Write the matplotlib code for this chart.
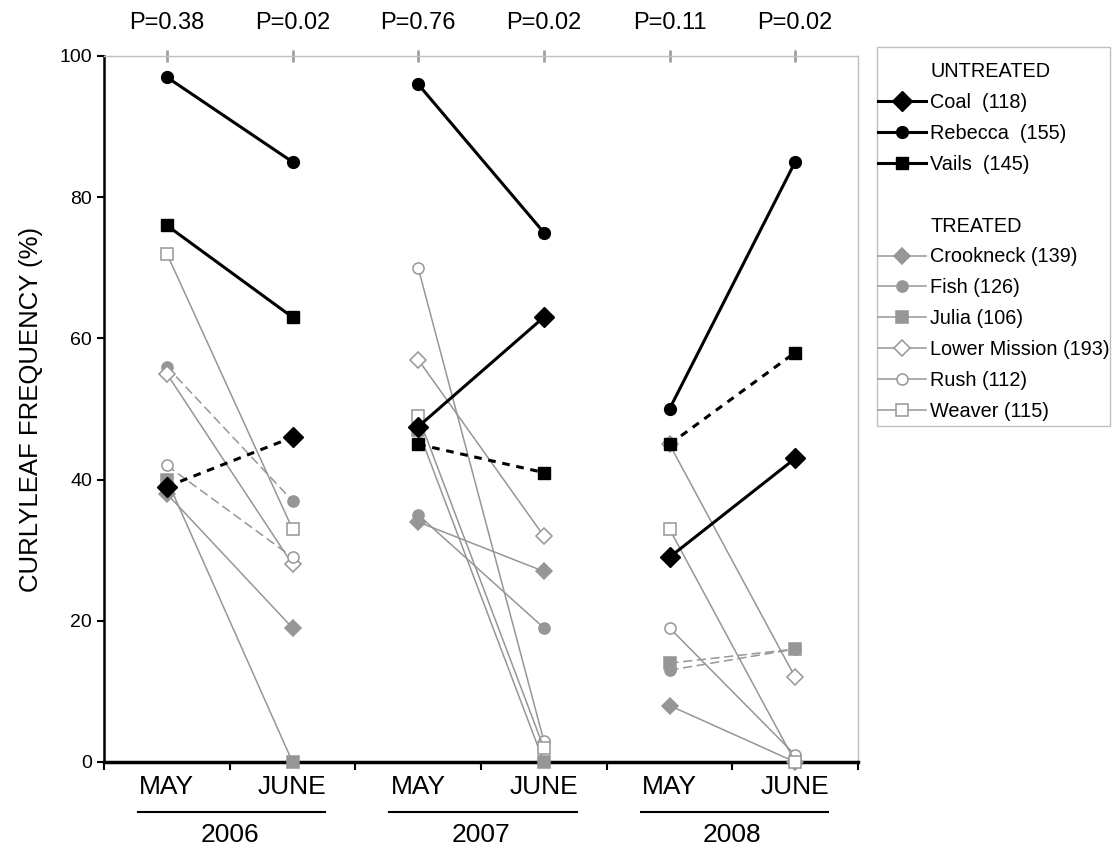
import matplotlib

matplotlib.use("Agg")
import matplotlib.pyplot as plt
from matplotlib.lines import Line2D
from matplotlib.patches import Rectangle
from matplotlib.transforms import blended_transform_factory

plt.rcParams["font.family"] = ["Liberation Sans", "DejaVu Sans"]

# sampling dates: May/June of each year
months = ["MAY", "JUNE", "MAY", "JUNE", "MAY", "JUNE"]
years = ["2006", "2007", "2008"]
p_values = ["P=0.38", "P=0.02", "P=0.76", "P=0.02", "P=0.11", "P=0.02"]

# curlyleaf frequency (%) per lake, order: May06, Jun06, May07, Jun07, May08, Jun08
coal = [39, 46, 47.5, 63, 29, 43]
rebecca = [97, 85, 96, 75, 50, 85]
vails = [76, 63, 45, 41, 45, 58]
crookneck = [38, 19, 34, 27, 8, 0]
fish = [56, 37, 35, 19, 13, 16]
julia = [40, 0, 47, 0, 14, 16]
lower_mission = [55, 28, 57, 32, 45, 12]
rush = [42, 29, 70, 3, 19, 1]
weaver = [72, 33, 49, 2, 33, 0]

# which yearly segments are drawn dashed
coal_dash = [True, False, False]
rebecca_dash = [False, False, False]
vails_dash = [False, True, True]
crookneck_dash = [False, False, False]
fish_dash = [True, False, True]
julia_dash = [False, False, True]
lower_mission_dash = [False, False, False]
rush_dash = [True, False, False]
weaver_dash = [False, False, False]

GRAY = "#969696"
W, H = 1112, 852

untreated = [
    ("Coal  (118)", coal, coal_dash, "D", "black"),
    ("Rebecca  (155)", rebecca, rebecca_dash, "o", "black"),
    ("Vails  (145)", vails, vails_dash, "s", "black"),
]
treated = [
    ("Crookneck (139)", crookneck, crookneck_dash, "D", GRAY),
    ("Fish (126)", fish, fish_dash, "o", GRAY),
    ("Julia (106)", julia, julia_dash, "s", GRAY),
    ("Lower Mission (193)", lower_mission, lower_mission_dash, "D", "white"),
    ("Rush (112)", rush, rush_dash, "o", "white"),
    ("Weaver (115)", weaver, weaver_dash, "s", "white"),
]
BLACK_MS = {"D": 10.5, "o": 8.5, "s": 9}


def main():
    fig = plt.figure(figsize=(W / 100, H / 100), dpi=100)
    ax = fig.add_axes([104 / W, 1 - 762 / H, (858 - 104) / W, (762 - 56) / H])

    # treated lakes: thin gray lines
    for i, (name, vals, dash, mk, face) in enumerate(treated):
        ms = 8 if mk != "D" else 8.5
        for k in range(3):
            xs = [2 * k, 2 * k + 1]
            ax.plot(xs, vals[2 * k:2 * k + 2], color=GRAY, lw=1.1,
                    ls=(0, (6, 3)) if dash[k] else "-",
                    marker=mk, ms=ms, mfc=face, mec=GRAY, mew=1.1,
                    zorder=3 + i * 0.1, clip_on=False)

    # untreated lakes: thick black lines
    for i, (name, vals, dash, mk, face) in enumerate(untreated):
        for k in range(3):
            xs = [2 * k, 2 * k + 1]
            ax.plot(xs, vals[2 * k:2 * k + 2], color="black", lw=2.2,
                    ls=(0, (2.5, 2.2)) if dash[k] else "-",
                    marker=mk, ms=BLACK_MS[mk], mfc=face, mec="black",
                    zorder=5 + i * 0.1, clip_on=False)

    ax.set_xlim(-0.5, 5.5)
    ax.set_ylim(0, 100)
    ax.set_yticks(range(0, 101, 20))
    ax.tick_params(axis="y", labelsize=14, length=5, width=1.5, direction="out")

    # category boundaries as major ticks, month labels on minor ticks
    ax.set_xticks([i - 0.5 for i in range(7)])
    ax.set_xticklabels([])
    ax.tick_params(axis="x", which="major", length=6, width=1.5, direction="out")
    ax.set_xticks(range(6), minor=True)
    ax.set_xticklabels(months, minor=True, fontsize=19)
    ax.tick_params(axis="x", which="minor", length=0, pad=9)

    for side in ["left", "bottom"]:
        ax.spines[side].set_color("black")
    ax.spines["left"].set_linewidth(1.8)
    ax.spines["bottom"].set_linewidth(2.5)
    for side in ["top", "right"]:
        ax.spines[side].set_color("#bfbfbf")
        ax.spines[side].set_linewidth(1)

    # P values above each sampling date
    top = ax.secondary_xaxis("top")
    top.set_xticks(range(6))
    top.set_xticklabels(p_values, fontsize=17)
    top.tick_params(length=8, width=2, direction="inout", color="#a0a0a0", pad=12)
    top.spines["top"].set_visible(False)

    ax.set_ylabel("CURLYLEAF FREQUENCY (%)", fontsize=18.5, labelpad=12)

    # year brackets under the month labels
    tr = blended_transform_factory(ax.transData, ax.transAxes)
    for k, yr in enumerate(years):
        ax.add_line(Line2D([2 * k - 0.23, 2 * k + 1.26], [-0.071, -0.071],
                           transform=tr, color="black", lw=1.5, clip_on=False))
        ax.text(2 * k + 0.5, -0.104, yr, transform=tr, ha="center", va="center",
                fontsize=19)

    # legend with group headers, frame drawn separately
    blank = Line2D([], [], color="none")
    handles, labels = [blank], ["UNTREATED"]
    for name, vals, dash, mk, face in untreated:
        handles.append(Line2D([], [], color="black", lw=2.2, marker=mk,
                              ms=BLACK_MS[mk], mfc=face, mec="black"))
        labels.append(name)
    handles += [blank, blank]
    labels += ["", "TREATED"]
    for name, vals, dash, mk, face in treated:
        handles.append(Line2D([], [], color=GRAY, lw=1.1, marker=mk, ms=8,
                              mfc=face, mec=GRAY, mew=1.1))
        labels.append(name)
    fig.legend(handles, labels, loc="upper left",
               bbox_to_anchor=(878 / W, 1 - 62 / H),
               fontsize=14.3, frameon=False,
               handlelength=2.42, handletextpad=0.2, labelspacing=0.6,
               borderpad=0, borderaxespad=0)
    fig.add_artist(Rectangle((877 / W, 1 - 426 / H), (1110 - 877) / W, (426 - 47) / H,
                             transform=fig.transFigure, fill=False,
                             edgecolor="#bfbfbf", lw=1))

    fig.savefig("out.png", dpi=100)
    plt.close(fig)


if __name__ == "__main__":
    main()
